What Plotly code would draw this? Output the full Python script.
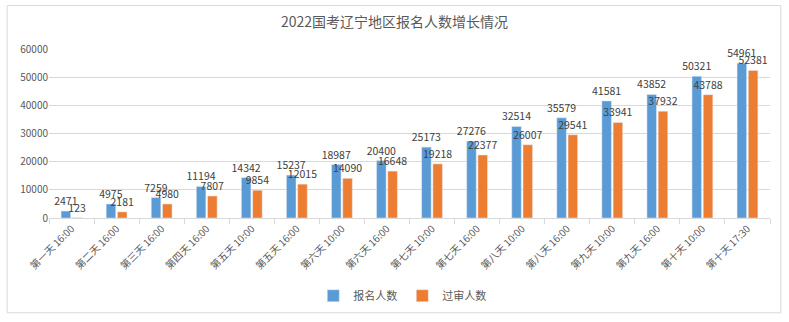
import plotly.graph_objects as go

categories = ["第一天 16:00", "第二天 16:00", "第三天 16:00", "第四天 16:00",
              "第五天 10:00", "第五天 16:00", "第六天 10:00", "第六天 16:00",
              "第七天 10:00", "第七天 16:00", "第八天 10:00", "第八天 16:00",
              "第九天 10:00", "第九天 16:00", "第十天 10:00", "第十天 17:30"]
registered = [2471, 4975, 7259, 11194, 14342, 15237, 18987, 20400,
              25173, 27276, 32514, 35579, 41581, 43852, 50321, 54961]
approved = [123, 2181, 4980, 7807, 9854, 12015, 14090, 16648,
            19218, 22377, 26007, 29541, 33941, 37932, 43788, 52381]

FONT = "Noto Sans CJK SC, Noto Sans, sans-serif"

fig = go.Figure()
fig.add_trace(go.Bar(name="报名人数", x=categories, y=registered,
                     marker_color="#5B9BD5", text=registered,
                     textposition="outside", cliponaxis=False, constraintext="none",
                     textfont=dict(size=10.5, color="#404040")))
fig.add_trace(go.Bar(name="过审人数", x=categories, y=approved,
                     marker_color="#ED7D31", text=approved,
                     textposition="outside", cliponaxis=False, constraintext="none",
                     textfont=dict(size=10.5, color="#404040")))

fig.update_layout(
    width=789, height=322,
    margin=dict(l=49, r=19, t=49, b=102),
    paper_bgcolor="white", plot_bgcolor="white",
    font=dict(family=FONT, color="#595959"),
    title=dict(text="2022国考辽宁地区报名人数增长情况", x=0.5, xanchor="center",
               y=0.93, yanchor="middle",
               font=dict(size=14, color="#595959", family=FONT)),
    barmode="group", bargap=0.5, bargroupgap=0.15,
    legend=dict(orientation="h", x=0.49, xanchor="center", y=-0.46, yanchor="middle",
                font=dict(size=11, color="#595959"), itemwidth=30,
                traceorder="normal"),
    showlegend=True,
)
fig.update_xaxes(tickangle=-45, tickfont=dict(size=10, color="#595959"),
                 showline=True, linecolor="#D9D9D9", linewidth=1,
                 ticks="outside", tickson="boundaries", tickcolor="#D9D9D9",
                 ticklen=5, showgrid=False)
fig.update_yaxes(range=[0, 60000], dtick=10000, tickformat="d",
                 tickfont=dict(size=10, color="#595959"),
                 showgrid=True, gridcolor="#D9D9D9", gridwidth=1,
                 zeroline=False, showline=False, ticks="")
fig.add_shape(type="rect", xref="paper", yref="paper",
              x0=-0.058, x1=1.015, y0=-0.561, y1=1.257,
              line=dict(color="#D9D9D9", width=1), layer="below")
fig.write_html("out.html")
